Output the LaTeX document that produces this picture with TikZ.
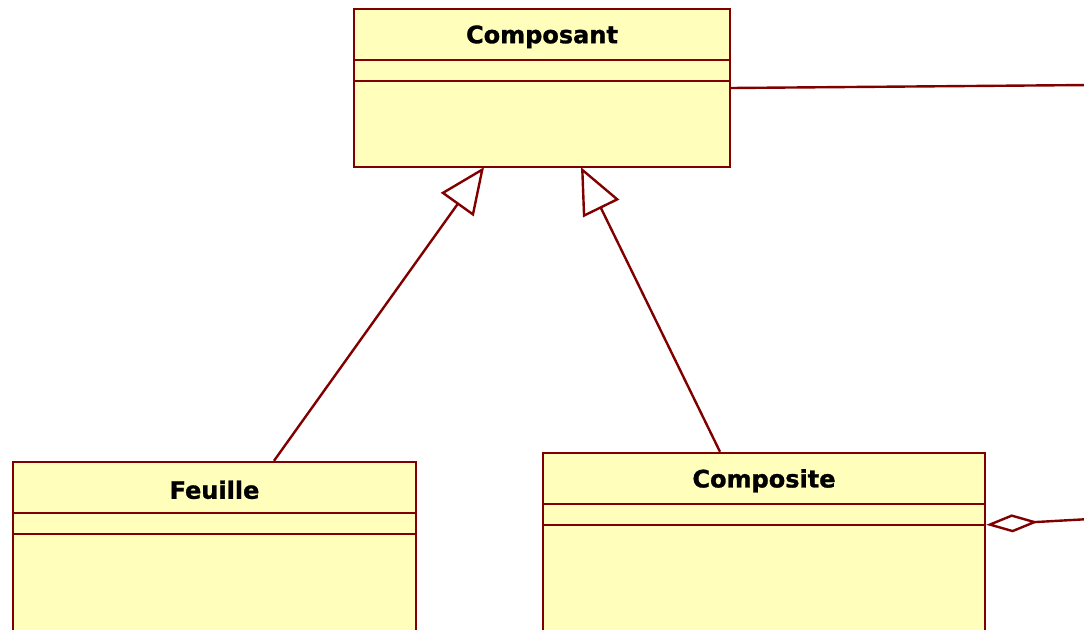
\documentclass[tikz,border=0pt]{standalone}
\usepackage{fontspec}
\setmainfont{DejaVu Sans}
\newfontfamily\titrefont[FakeBold=1.2]{DejaVu Sans Bold}
\usetikzlibrary{positioning, calc, arrows.meta}
\definecolor{bordeaux}{RGB}{128,0,0}
\definecolor{jaune}{RGB}{255,255,187}

\begin{document}
\begin{tikzpicture}[x=1pt,y=-1pt,
  classe/.style={draw=bordeaux,fill=jaune,line width=2.4pt,rectangle,inner sep=0pt},
  trait/.style={draw=bordeaux,line width=2.4pt},
  herite/.style={trait,-{Triangle[open,length=46pt,width=40pt,fill=white]}},
  agreg/.style={trait,-{Diamond[open,length=52pt,width=18pt,fill=white]}},
  titre/.style={font=\fontsize{24}{29}\selectfont\titrefont}]
\useasboundingbox (0,0) rectangle (1084,629);
\clip (0,0) rectangle (1084,629);
% classes
\node[classe,minimum width=376pt,minimum height=158pt] (Composant) at (542,88) {};
\node[classe,minimum width=403pt,minimum height=218pt] (Feuille) at (214.5,571) {};
\node[classe,minimum width=442pt,minimum height=227pt] (Composite) at (764,566.5) {};
\foreach \c in {Composant,Feuille,Composite} {
  \draw[trait] ([yshift=-52pt]\c.north west) -- ([yshift=-52pt]\c.north east);
  \draw[trait] ([yshift=-73pt]\c.north west) -- ([yshift=-73pt]\c.north east);
  \node[titre] (titre\c) at ([yshift=-29pt]\c.north) {\c};
}
% liens
\draw[herite] ([xshift=59.5pt]Feuille.north) -- ([xshift=-58pt,yshift=1pt]Composant.south);
\draw[herite] ([xshift=-44pt]Composite.north) -- ([xshift=39pt,yshift=1pt]Composant.south);
\coordinate (versDroite) at (1090,85);
\draw[trait] (Composant.east) -- (versDroite);
\coordinate (versAgreg) at (1090,519);
\draw[agreg] (versAgreg) -- ([yshift=-73pt]Composite.north east);
\end{tikzpicture}
\end{document}
